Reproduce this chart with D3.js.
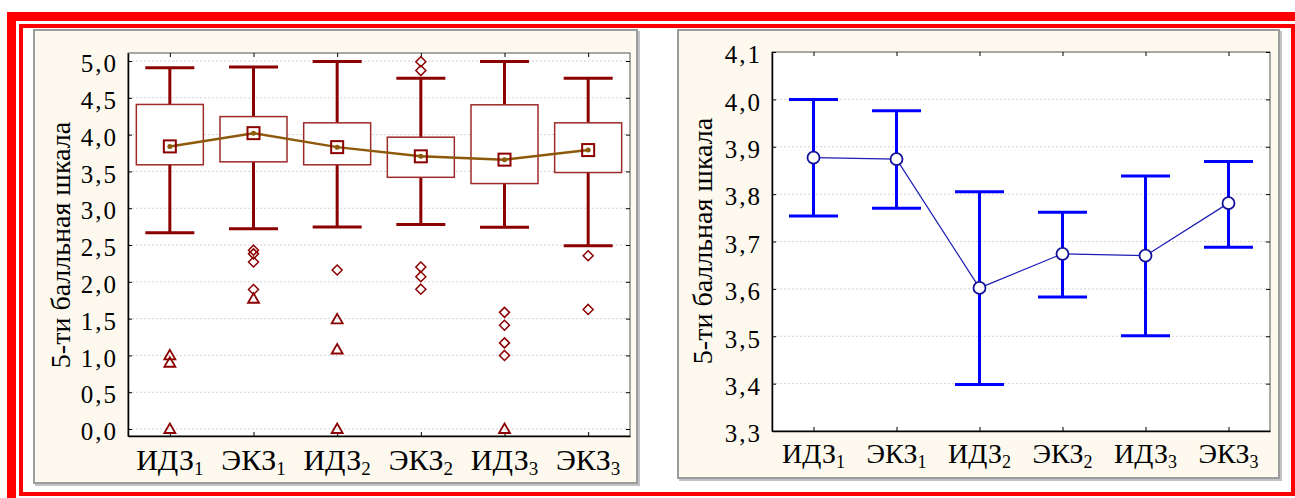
<!DOCTYPE html>
<meta charset="utf-8">

<!-- Load d3.js -->
<script src="https://d3js.org/d3.v7.min.js"></script>

<style>
  body { margin: 0; background: #fff; }
  svg text { font-family: "Liberation Serif", Tinos, "Times New Roman", Times, serif !important; fill: #000; }
</style>

<div id="my_dataviz"></div>

<script>

// groups on the x axis (main text + subscript)
var groups = ["ИДЗ", "ЭКЗ", "ИДЗ", "ЭКЗ", "ИДЗ", "ЭКЗ"];
var subs = ["1", "1", "2", "2", "3", "3"];
var keys = groups.map(function(g, i) { return g + subs[i]; });

// left chart: box plot values
var boxMean   = [3.84, 4.02, 3.83, 3.705, 3.66, 3.79];
var boxLow    = [3.59, 3.63, 3.59, 3.42, 3.335, 3.485];
var boxHigh   = [4.41, 4.245, 4.16, 3.965, 4.405, 4.16];
var whiskLow  = [2.665, 2.72, 2.745, 2.78, 2.74, 2.49];
var whiskHigh = [4.91, 4.92, 4.995, 4.765, 4.995, 4.765];
var outliers  = [[], [2.43, 2.38, 2.27, 1.895], [2.16], [4.99, 4.87, 2.2, 2.07, 1.9], [1.585, 1.41, 1.17, 1.0], [2.355, 1.625]];
var extremes  = [[1.0, 0.9, 0], [1.77], [1.49, 1.08, 0], [], [0], []];
var leftTicks = [0, 0.5, 1, 1.5, 2, 2.5, 3, 3.5, 4, 4.5, 5];

// right chart: means with error bars
var means  = [3.877, 3.874, 3.602, 3.674, 3.670, 3.781];
var upper  = [4.0, 3.976, 3.805, 3.762, 3.838, 3.869];
var lower  = [3.754, 3.770, 3.398, 3.583, 3.501, 3.688];
var rightTicks = [3.3, 3.4, 3.5, 3.6, 3.7, 3.8, 3.9, 4.0, 4.1];

var yTitle = "5-ти балльная шкала";

var svg = d3.select("#my_dataviz")
  .append("svg")
    .attr("width", 1295)
    .attr("height", 498);

// red double frame
svg.append("rect")
  .attr("x", 11.5).attr("y", 16.5)
  .attr("width", 1300).attr("height", 500)
  .attr("fill", "none").attr("stroke", "#ff0000").attr("stroke-width", 9);
svg.append("rect")
  .attr("x", 21).attr("y", 26)
  .attr("width", 1272).attr("height", 468)
  .attr("fill", "none").attr("stroke", "#ff0000").attr("stroke-width", 4);

var fmt = function(d) { return d3.format(".1f")(d).replace(".", ","); };

// panel with axes, grid and labels
function drawPanel(p) {
  // grey 3d border + cream background
  svg.append("rect")
    .attr("x", p.x0 + 2).attr("y", p.y0 + 2)
    .attr("width", p.x1 - p.x0).attr("height", p.y1 - p.y0)
    .attr("fill", "#c2c2c6");
  svg.append("rect")
    .attr("x", p.x0 + 1).attr("y", p.y0 + 1)
    .attr("width", p.x1 - p.x0 - 2).attr("height", p.y1 - p.y0 - 2)
    .attr("fill", "#fdf9ee").attr("stroke", "#9c9c9c").attr("stroke-width", 2);

  // plot area
  svg.append("rect")
    .attr("x", p.left).attr("y", p.top)
    .attr("width", p.right - p.left).attr("height", p.bottom - p.top)
    .attr("fill", "#fff").attr("stroke", "#555").attr("stroke-width", 1);

  var x = d3.scalePoint().domain(keys).range([p.left, p.right]).padding(0.5);
  var y = d3.scaleLinear().domain(p.domain).range([p.bottom, p.top]);

  // dotted grid
  svg.append("g").selectAll("line")
    .data(p.ticks.filter(function(t) { return y(t) > p.top + 1 && y(t) < p.bottom - 1; }))
    .enter().append("line")
      .attr("x1", p.left).attr("x2", p.right)
      .attr("y1", function(d) { return y(d); }).attr("y2", function(d) { return y(d); })
      .attr("stroke", "#d4d4d4").attr("stroke-dasharray", "2,2");

  // inward ticks on all four sides
  svg.append("g").attr("transform", "translate(" + p.right + ",0)")
    .call(d3.axisRight(y).tickValues(p.ticks).tickSize(-4).tickSizeOuter(0).tickFormat(""))
    .call(function(g) { g.select(".domain").remove(); });
  svg.append("g").attr("transform", "translate(0," + p.top + ")")
    .call(d3.axisTop(x).tickSize(-4).tickSizeOuter(0).tickFormat(""))
    .call(function(g) { g.select(".domain").remove(); });

  var ya = svg.append("g").attr("transform", "translate(" + p.left + ",0)")
    .call(d3.axisLeft(y).tickValues(p.ticks).tickSize(-4).tickSizeOuter(0).tickPadding(10).tickFormat(fmt));
  ya.attr("font-family", null);
  ya.select(".domain").attr("stroke", "#000").attr("stroke-width", 1.5);
  ya.selectAll("text")
    .attr("dy", "0.43em")
    .style("font-size", "25px")
    .style("letter-spacing", "2px");

  var xa = svg.append("g").attr("transform", "translate(0," + p.bottom + ")")
    .call(d3.axisBottom(x).tickSize(-4).tickSizeOuter(0).tickFormat(""));
  xa.select(".domain").attr("stroke", "#000").attr("stroke-width", 1.5);

  // x labels with subscripts
  var lab = svg.append("g").selectAll("text")
    .data(keys).enter().append("text")
      .attr("x", function(d) { return x(d); })
      .attr("y", p.bottom + p.xBase)
      .attr("text-anchor", "middle")
      .style("font-size", p.xFont + "px");
  lab.append("tspan").text(function(d, i) { return groups[i]; });
  lab.append("tspan").attr("dy", 5).style("font-size", p.subFont + "px")
    .text(function(d, i) { return subs[i]; });

  // y axis title
  svg.append("text")
    .attr("transform", "translate(" + p.titleX + "," + p.titleY + ") rotate(-90)")
    .attr("text-anchor", "middle")
    .style("font-size", "28px")
    .text(yTitle);

  return { x: x, y: y };
}

// ---------- left panel: box plot ----------
var L = drawPanel({
  x0: 33, y0: 29, x1: 638, y1: 484,
  left: 128, right: 630, top: 53, bottom: 436,
  domain: [-0.095, 5.109], ticks: leftTicks,
  xFont: 30, subFont: 19, xBase: 34,
  titleX: 70, titleY: 245
});

var dark = "#8b0000";
var lg = svg.append("g");

// whiskers
keys.forEach(function(k, i) {
  var cx = L.x(k);
  lg.append("line").attr("x1", cx).attr("x2", cx)
    .attr("y1", L.y(whiskLow[i])).attr("y2", L.y(whiskHigh[i]))
    .attr("stroke", dark).attr("stroke-width", 3);
  [whiskLow[i], whiskHigh[i]].forEach(function(v) {
    lg.append("line").attr("x1", cx - 24.5).attr("x2", cx + 24.5)
      .attr("y1", L.y(v)).attr("y2", L.y(v))
      .attr("stroke", dark).attr("stroke-width", 3);
  });
});

// boxes
lg.selectAll(".box").data(keys).enter().append("rect")
  .attr("x", function(d) { return L.x(d) - 33.5; })
  .attr("y", function(d, i) { return L.y(boxHigh[i]); })
  .attr("width", 67)
  .attr("height", function(d, i) { return L.y(boxLow[i]) - L.y(boxHigh[i]); })
  .attr("fill", "#fff").attr("stroke", "#9e2a2a").attr("stroke-width", 1.5);

// outliers (diamonds) and extremes (triangles)
keys.forEach(function(k, i) {
  var cx = L.x(k);
  outliers[i].forEach(function(v) {
    var cy = L.y(v);
    lg.append("path")
      .attr("d", "M" + cx + "," + (cy - 5) + "L" + (cx + 5) + "," + cy + "L" + cx + "," + (cy + 5) + "L" + (cx - 5) + "," + cy + "Z")
      .attr("fill", "none").attr("stroke", dark).attr("stroke-width", 1.5);
  });
  extremes[i].forEach(function(v) {
    var cy = L.y(v);
    lg.append("path")
      .attr("d", "M" + cx + "," + (cy - 5.5) + "L" + (cx + 5.5) + "," + (cy + 4) + "L" + (cx - 5.5) + "," + (cy + 4) + "Z")
      .attr("fill", "none").attr("stroke", dark).attr("stroke-width", 1.8);
  });
});

// mean line and markers
lg.append("path")
  .datum(boxMean)
  .attr("fill", "none").attr("stroke", "#8c5a0a").attr("stroke-width", 2.5)
  .attr("d", d3.line()
    .x(function(d, i) { return L.x(keys[i]); })
    .y(function(d) { return L.y(d); }));
lg.selectAll(".msq").data(boxMean).enter().append("rect")
  .attr("x", function(d, i) { return L.x(keys[i]) - 6; })
  .attr("y", function(d) { return L.y(d) - 6; })
  .attr("width", 12).attr("height", 12)
  .attr("fill", "none").attr("stroke", dark).attr("stroke-width", 2);
lg.selectAll(".mdot").data(boxMean).enter().append("circle")
  .attr("cx", function(d, i) { return L.x(keys[i]); })
  .attr("cy", function(d) { return L.y(d); })
  .attr("r", 2.5).attr("fill", "#8c5a0a");

// ---------- right panel: means with error bars ----------
var R = drawPanel({
  x0: 677, y0: 29, x1: 1280, y1: 479,
  left: 772, right: 1270, top: 52, bottom: 431,
  domain: [3.3, 4.1], ticks: rightTicks,
  xFont: 28, subFont: 18, xBase: 32,
  titleX: 712, titleY: 241
});

var blue = "#0000ff";
var rg = svg.append("g");

keys.forEach(function(k, i) {
  var cx = R.x(k);
  rg.append("line").attr("x1", cx).attr("x2", cx)
    .attr("y1", R.y(lower[i])).attr("y2", R.y(upper[i]))
    .attr("stroke", blue).attr("stroke-width", 3);
  [lower[i], upper[i]].forEach(function(v) {
    rg.append("line").attr("x1", cx - 24.5).attr("x2", cx + 24.5)
      .attr("y1", R.y(v)).attr("y2", R.y(v))
      .attr("stroke", blue).attr("stroke-width", 3);
  });
});

rg.append("path")
  .datum(means)
  .attr("fill", "none").attr("stroke", "#1c1cb4").attr("stroke-width", 1.2)
  .attr("d", d3.line()
    .x(function(d, i) { return R.x(keys[i]); })
    .y(function(d) { return R.y(d); }));

rg.selectAll(".pt").data(means).enter().append("circle")
  .attr("cx", function(d, i) { return R.x(keys[i]); })
  .attr("cy", function(d) { return R.y(d); })
  .attr("r", 6)
  .attr("fill", "#fff").attr("stroke", "#10109a").attr("stroke-width", 1.8);

</script>
